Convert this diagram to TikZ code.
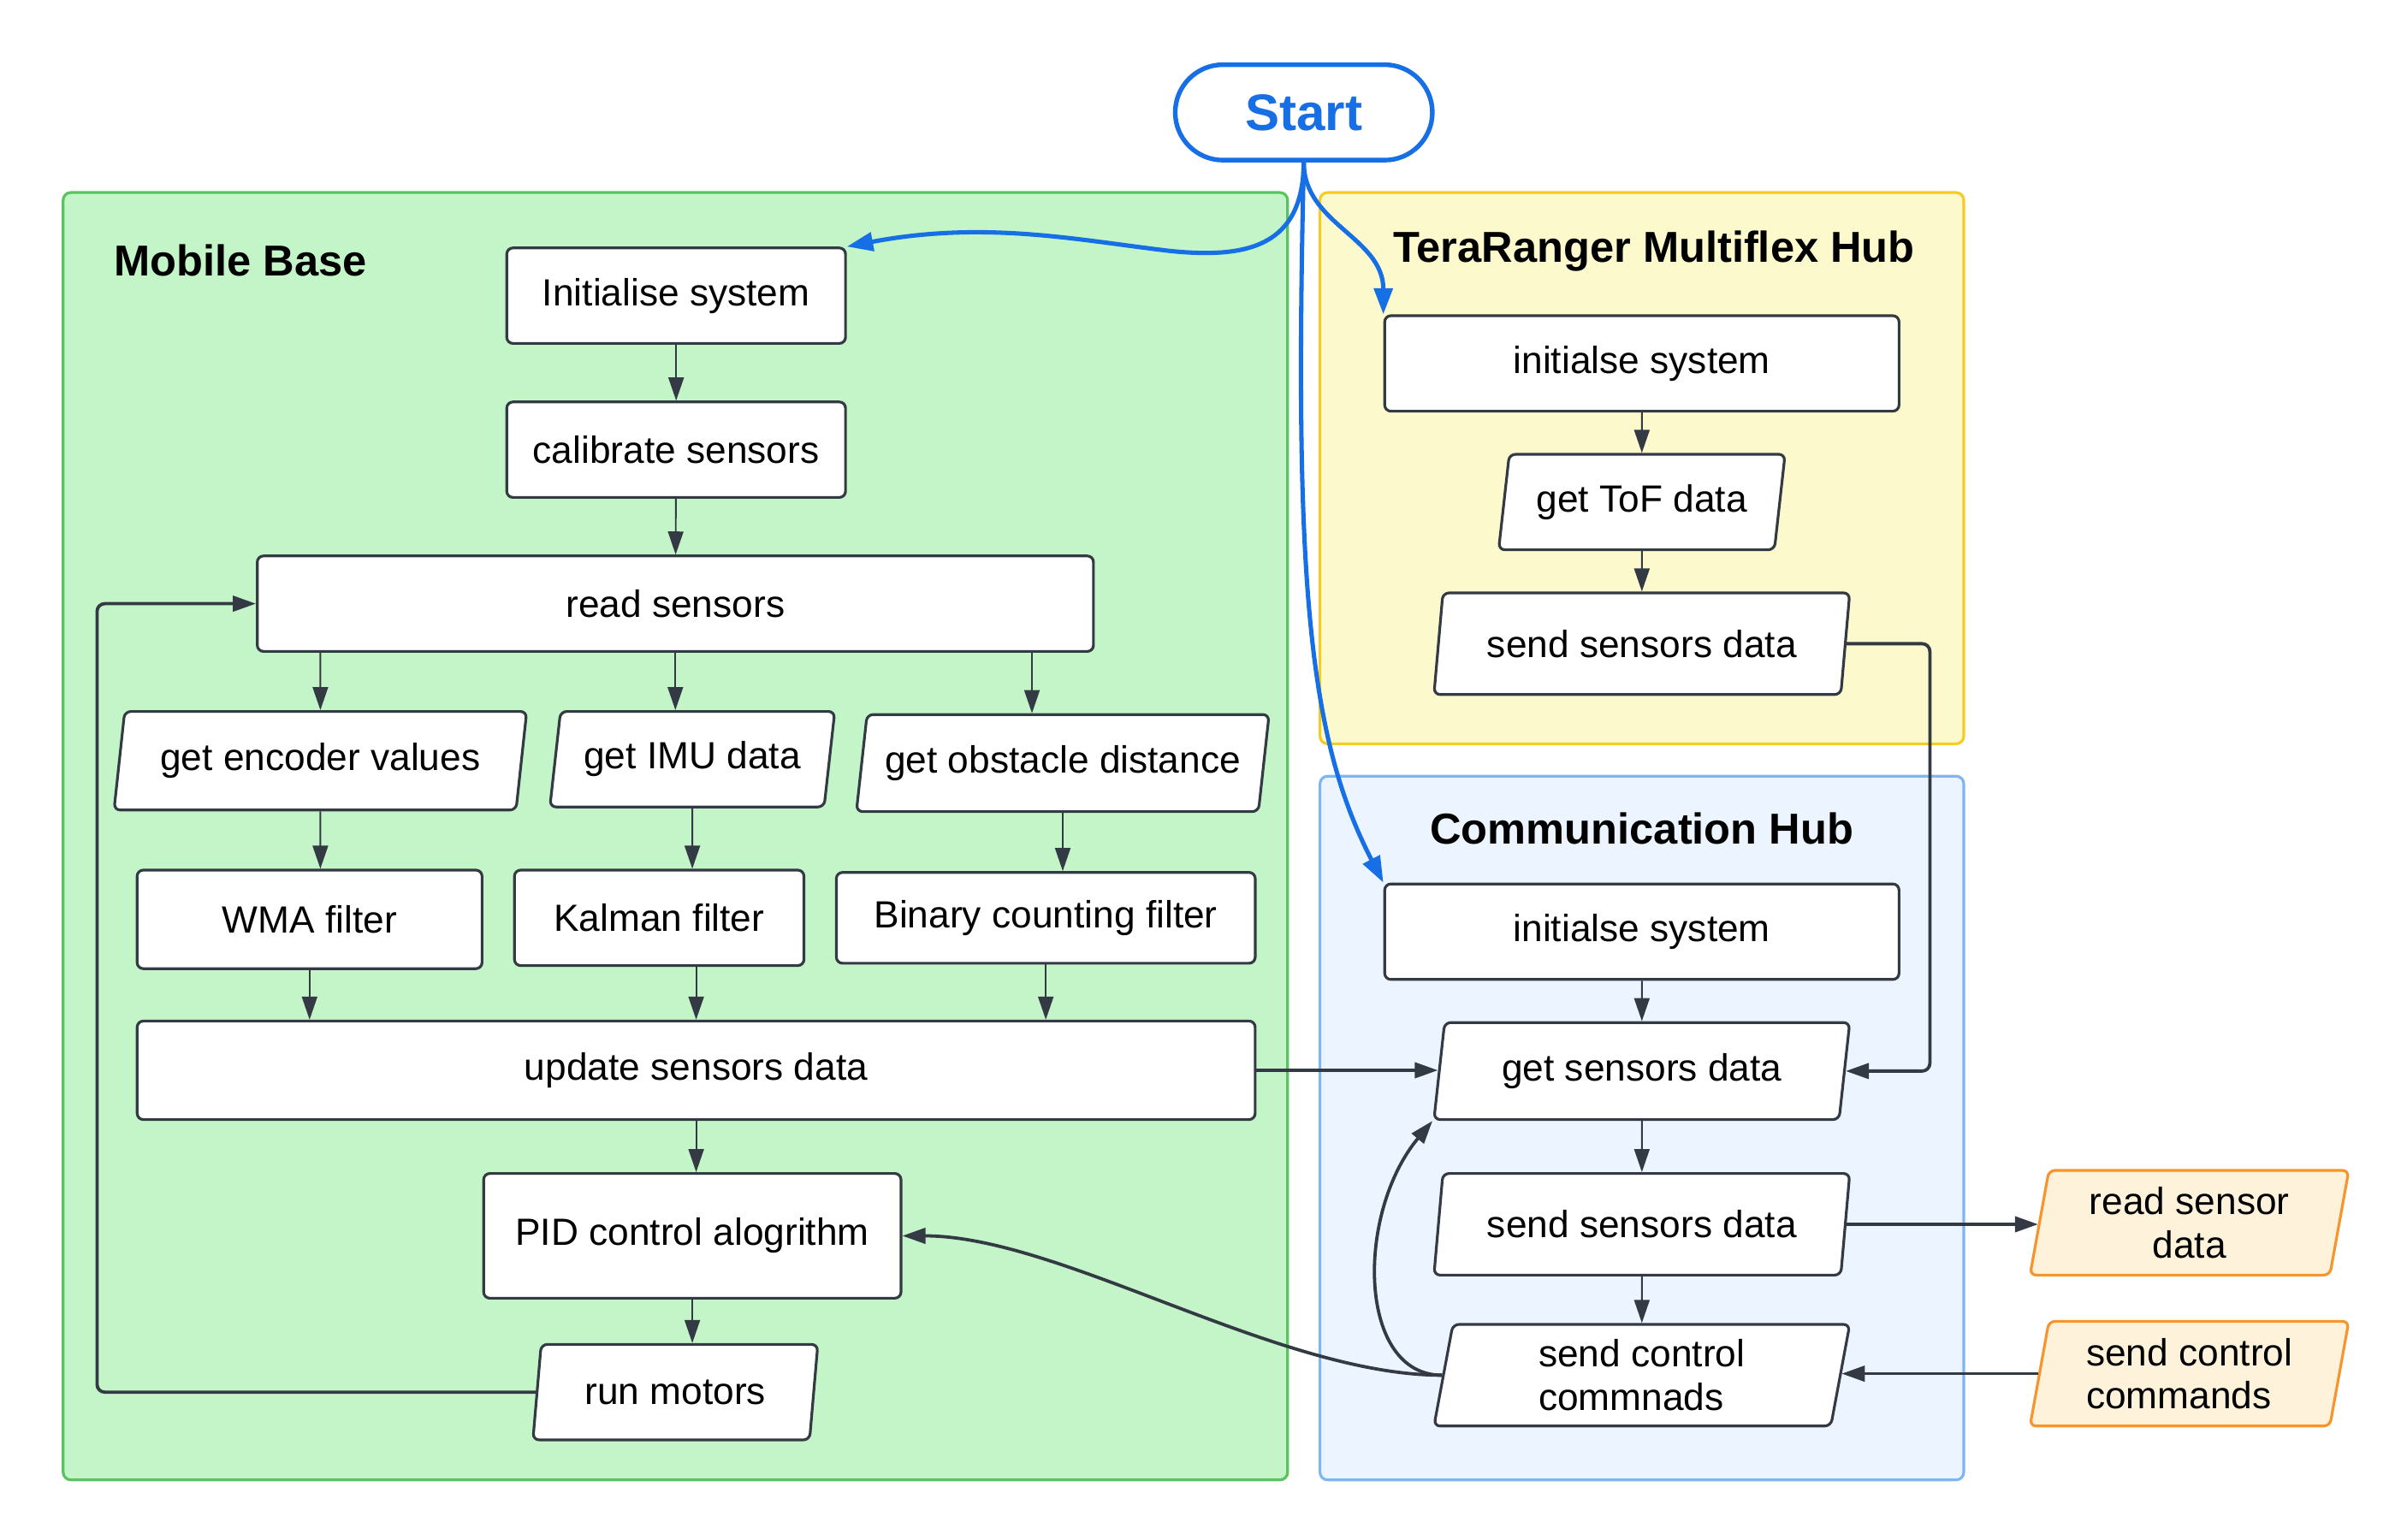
\documentclass[tikz,border=0pt]{standalone}
\usepackage{fontspec}
\setmainfont{Liberation Sans}
\usetikzlibrary{arrows.meta,positioning,shapes.geometric}
\definecolor{edgegray}{RGB}{52,58,68}
\definecolor{startblue}{RGB}{23,111,230}
\definecolor{basegreen}{RGB}{195,245,200}
\definecolor{basegreenline}{RGB}{90,195,95}
\definecolor{hubyellow}{RGB}{252,250,204}
\definecolor{hubyellowline}{RGB}{247,203,33}
\definecolor{commblue}{RGB}{236,244,255}
\definecolor{commblueline}{RGB}{125,182,245}
\definecolor{extorange}{RGB}{255,242,218}
\definecolor{extorangeline}{RGB}{247,148,43}

\begin{document}
\begin{tikzpicture}[
    x=0.02cm, y=-0.02cm,
    box/.style={draw=edgegray, fill=white, line width=1pt, rounded corners=0.08cm, font=\fontsize{14}{16}\selectfont, align=center, inner sep=2pt},
    io/.style={box, trapezium, trapezium left angle=77, trapezium right angle=103, trapezium stretches body},
    ext/.style={io, draw=extorangeline, fill=extorange},
    terminal/.style={draw=startblue, fill=white, line width=1.7pt, rounded corners=0.62cm, minimum width=3.34cm, minimum height=1.24cm, text=startblue, font=\fontsize{19}{22}\bfseries\selectfont},
    cluster/.style={line width=1pt, rounded corners=0.1cm},
    title/.style={font=\fontsize{16}{19}\bfseries\selectfont},
    flow/.style={draw=edgegray, line width=0.6pt, -{Triangle[length=0.3cm,width=0.2cm]}},
    link/.style={flow, line width=1.2pt},
    kick/.style={draw=startblue, line width=1.6pt, -{Triangle[length=0.34cm,width=0.24cm]}}
]
\useasboundingbox (0,0) rectangle (1562.8,1000);

% clusters
\draw[cluster, draw=basegreenline, fill=basegreen] (41,125) rectangle (836,961);
\draw[cluster, draw=hubyellowline, fill=hubyellow] (857,125) rectangle (1275,483);
\draw[cluster, draw=commblueline, fill=commblue] (857,504) rectangle (1275,961);
\node[title, anchor=west] (basetitle) at (68,169) {Mobile Base};
\node[title] (hubtitle) at (1074,163) {TeraRanger Multiflex Hub};
\node[title] (commtitle) at (1066,538) {Communication Hub};

\node[terminal] (start) at (846.5,73) {Start};

% mobile base
\node[box, minimum width=4.4cm, minimum height=1.24cm] (init) at (439,192) {Initialise system};
\node[box, minimum width=4.4cm, minimum height=1.24cm] (calib) at (439,292) {calibrate sensors};
\node[box, minimum width=10.86cm, minimum height=1.24cm] (read) at (438.5,392) {read sensors};
\node[io, minimum width=5.36cm, minimum height=1.28cm] (enc) at (208,494) {get encoder values};
\node[io, minimum width=3.7cm, minimum height=1.24cm] (imu) at (449.5,493) {get IMU data};
\node[io, minimum width=5.36cm, minimum height=1.26cm] (obs) at (690,495.5) {get obstacle distance};
\node[box, minimum width=4.48cm, minimum height=1.28cm] (wma) at (201,597) {WMA filter};
\node[box, minimum width=3.76cm, minimum height=1.24cm] (kal) at (428,596) {Kalman filter};
\node[box, minimum width=5.44cm, minimum height=1.18cm] (bin) at (679,596) {Binary counting filter};
\node[box, minimum width=14.52cm, minimum height=1.28cm] (upd) at (452,695) {update sensors data};
\node[box, minimum width=5.42cm, minimum height=1.62cm] (pid) at (449.5,802.5) {PID control alogrithm};
\node[io, minimum width=3.7cm, minimum height=1.24cm] (run) at (438.5,904) {run motors};

% teraranger hub
\node[box, minimum width=6.68cm, minimum height=1.24cm] (tinit) at (1066,236) {initialse system};
\node[io, minimum width=3.72cm, minimum height=1.24cm] (tof) at (1066,326) {get ToF data};
\node[io, minimum width=5.4cm, minimum height=1.32cm] (tsend) at (1066,418) {send sensors data};

% communication hub
\node[box, minimum width=6.68cm, minimum height=1.24cm] (cinit) at (1066,605) {initialse system};
\node[io, minimum width=5.4cm, minimum height=1.26cm] (cget) at (1066,695.5) {get sensors data};
\node[io, minimum width=5.4cm, minimum height=1.32cm] (csend) at (1066,795) {send sensors data};
\node[io, minimum width=5.4cm, minimum height=1.32cm, align=left] (cctrl) at (1066,893) {send control\\commnads};

% outside
\node[ext, minimum width=4.14cm, minimum height=1.36cm] (rsd) at (1421.5,794) {read sensor\\data};
\node[ext, minimum width=4.14cm, minimum height=1.36cm, align=left] (scc) at (1421.5,892) {send control\\commands};

% start
\draw[kick] (start.south) .. controls (846,160) and (810,168) .. (760,163)
    .. controls (700,156) and (640,143) .. (init.north east);
\draw[kick] (start.south) .. controls +(0,40) and +(0,-50) .. (tinit.north west);
\draw[kick] (start.south) .. controls (840,380) and (850,480) .. (cinit.north west);

% mobile base flow
\coordinate (obsin) at ([xshift=-0.4cm]obs.north);
\coordinate (loop) at (63,393);
\draw[flow] (init) -- (calib);
\draw[flow] (calib) -- (read);
\draw[flow] (read.south -| enc) -- (enc);
\draw[flow] (read.south) -- (read.south |- imu.north);
\draw[flow] (read.south -| obsin) -- (obsin);
\draw[flow] (enc) -- (enc |- wma.north);
\draw[flow] (imu) -- (imu |- kal.north);
\draw[flow] (obs) -- (obs |- bin.north);
\draw[flow] (wma) -- (wma |- upd.north);
\draw[flow] (kal.south -| upd.north) -- (upd.north);
\draw[flow] (bin) -- (bin |- upd.north);
\draw[flow] (upd.south) -- (upd.south |- pid.north);
\draw[flow] (pid.south) -- (pid.south |- run.north);
\draw[link, rounded corners=0.1cm] (run.west) -- (run.west -| loop) |- (read.west);

% hubs
\coordinate (hop) at (1253,418);
\draw[flow] (tinit) -- (tof);
\draw[flow] (tof) -- (tsend);
\draw[link, rounded corners=0.1cm] (tsend.east) -- (tsend.east -| hop) |- (cget.east);
\draw[flow] (cinit) -- (cget);
\draw[flow] (cget) -- (csend);
\draw[flow] (csend) -- (cctrl);
\draw[link] (upd.east) -- (upd.east -| cget.west);
\draw[link] (csend.east) -- (csend.east -| rsd.west);
\draw[link] (scc.west) -- (scc.west -| cctrl.east);
\draw[link] (cctrl.west) .. controls +(-55,0) and +(-50,60) .. (cget.bottom left corner);
\draw[link] (cctrl.west) .. controls +(-107,0) and +(103,0) .. (pid.east);
\end{tikzpicture}
\end{document}
